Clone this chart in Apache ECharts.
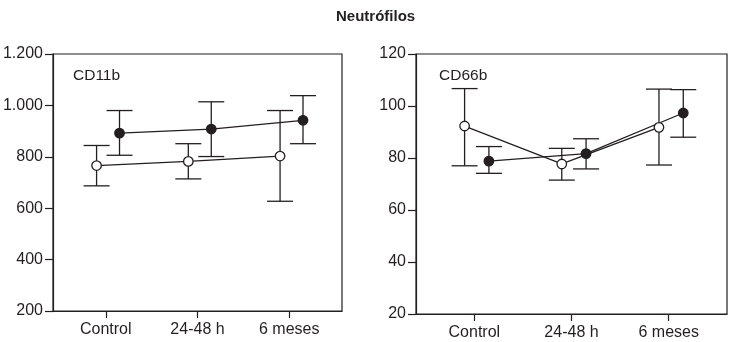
<!DOCTYPE html>
<html>
<head>
<meta charset="utf-8">
<script src="https://cdn.jsdelivr.net/npm/echarts@6/dist/echarts.min.js"></script>
<style>
  html, body { margin: 0; padding: 0; background: #fff; }
  #chart { width: 730px; height: 342px; }
</style>
</head>
<body>
<div id="chart"></div>
<script>
var categories = ['Control', '24-48 h', '6 meses'];

// CD11b (open = white circles, filled = black circles)
var cd11bOpenMean = [766, 782, 803];
var cd11bOpenLow = [687, 714, 627];
var cd11bOpenHigh = [844, 851, 980];
var cd11bFilledMean = [892, 908, 942];
var cd11bFilledLow = [806, 801, 851];
var cd11bFilledHigh = [980, 1014, 1038];

// CD66b
var cd66bOpenMean = [92.3, 77.7, 91.8];
var cd66bOpenLow = [77, 71.5, 77.3];
var cd66bOpenHigh = [106.7, 83.7, 106.5];
var cd66bFilledMean = [78.8, 81.7, 97.3];
var cd66bFilledLow = [74.1, 75.8, 88];
var cd66bFilledHigh = [84.4, 87.4, 106.3];

var FONT = "'Liberation Sans', Arial, sans-serif";
var INK = '#231f20';
var OPEN_SHIFT = -0.1, FILLED_SHIFT = 0.15;

function pts(vals, shift) {
  return vals.map(function (v, i) { return [i + 1 + shift, v]; });
}
function bars(low, high, shift) {
  return low.map(function (v, i) { return [i + 1 + shift, v, high[i]]; });
}

function errItem(params, api) {
  var x = api.value(0);
  var top = api.coord([x, api.value(2)]);
  var bot = api.coord([x, api.value(1)]);
  var w = 13;
  var st = { stroke: INK, lineWidth: 1.3 };
  return {
    type: 'group',
    children: [
      { type: 'line', shape: { x1: top[0], y1: top[1], x2: bot[0], y2: bot[1] }, style: st },
      { type: 'line', shape: { x1: top[0] - w, y1: top[1], x2: top[0] + w, y2: top[1] }, style: st },
      { type: 'line', shape: { x1: bot[0] - w, y1: bot[1], x2: bot[0] + w, y2: bot[1] }, style: st }
    ]
  };
}

function xAxis(idx, min, max) {
  return {
    type: 'value', gridIndex: idx, min: min, max: max,
    splitLine: { show: false },
    axisLine: { lineStyle: { color: INK, width: 1.2 } },
    axisTick: { show: true, customValues: [1, 2, 3], length: 7, lineStyle: { color: INK, width: 1.2 } },
    axisLabel: {
      customValues: [1, 2, 3], margin: 11,
      fontFamily: FONT, fontSize: 16, color: INK,
      formatter: function (v) { return categories[Math.round(v) - 1]; }
    }
  };
}

function yAxis(idx, min, max, interval, fmt) {
  return {
    type: 'value', gridIndex: idx, min: min, max: max, interval: interval,
    splitLine: { show: false },
    axisLine: { show: true, lineStyle: { color: INK, width: 1.2 } },
    axisTick: { show: true, length: 8, lineStyle: { color: INK, width: 1.2 } },
    axisLabel: { margin: 10, fontFamily: FONT, fontSize: 16, color: INK, formatter: fmt }
  };
}

function errSeries(idx, low, high, shift) {
  return {
    type: 'custom', xAxisIndex: idx, yAxisIndex: idx,
    renderItem: errItem, data: bars(low, high, shift), z: 2, silent: true
  };
}

function lineSeries(idx, mean, shift, filled) {
  return {
    type: 'line', xAxisIndex: idx, yAxisIndex: idx,
    data: pts(mean, shift), symbol: 'circle', symbolSize: 9.5,
    lineStyle: { color: INK, width: 1.3 },
    itemStyle: { color: filled ? INK : '#fff', borderColor: INK, borderWidth: 1.3 },
    z: 3, silent: true
  };
}

function thousands(v) {
  return v >= 1000 ? String(v).replace(/(\d)(\d{3})$/, '$1.$2') : String(v);
}

var chart = echarts.init(document.getElementById('chart'), null, { renderer: 'canvas' });
chart.setOption({
  animation: false,
  backgroundColor: '#fff',
  title: [
    { text: 'Neutrófilos', left: 331, top: 4, textStyle: { fontFamily: FONT, fontSize: 15, fontWeight: 'bold', color: INK } },
    { text: 'CD11b', left: 68, top: 63, textStyle: { fontFamily: FONT, fontSize: 15.5, fontWeight: 'normal', color: INK } },
    { text: 'CD66b', left: 434, top: 63, textStyle: { fontFamily: FONT, fontSize: 15.5, fontWeight: 'normal', color: INK } }
  ],
  grid: [
    { left: 53, top: 54, width: 289, height: 257, show: true, borderColor: INK, borderWidth: 1.2, outerBoundsMode: 'none' },
    { left: 416, top: 54, width: 311, height: 260, show: true, borderColor: INK, borderWidth: 1.2, outerBoundsMode: 'none' }
  ],
  xAxis: [xAxis(0, 0.425, 3.575), xAxis(1, 0.4, 3.6)],
  yAxis: [yAxis(0, 200, 1200, 200, thousands), yAxis(1, 20, 120, 20)],
  series: [
    errSeries(0, cd11bOpenLow, cd11bOpenHigh, OPEN_SHIFT),
    errSeries(0, cd11bFilledLow, cd11bFilledHigh, FILLED_SHIFT),
    lineSeries(0, cd11bOpenMean, OPEN_SHIFT, false),
    lineSeries(0, cd11bFilledMean, FILLED_SHIFT, true),
    errSeries(1, cd66bOpenLow, cd66bOpenHigh, OPEN_SHIFT),
    errSeries(1, cd66bFilledLow, cd66bFilledHigh, FILLED_SHIFT),
    lineSeries(1, cd66bOpenMean, OPEN_SHIFT, false),
    lineSeries(1, cd66bFilledMean, FILLED_SHIFT, true)
  ]
});
</script>
</body>
</html>
